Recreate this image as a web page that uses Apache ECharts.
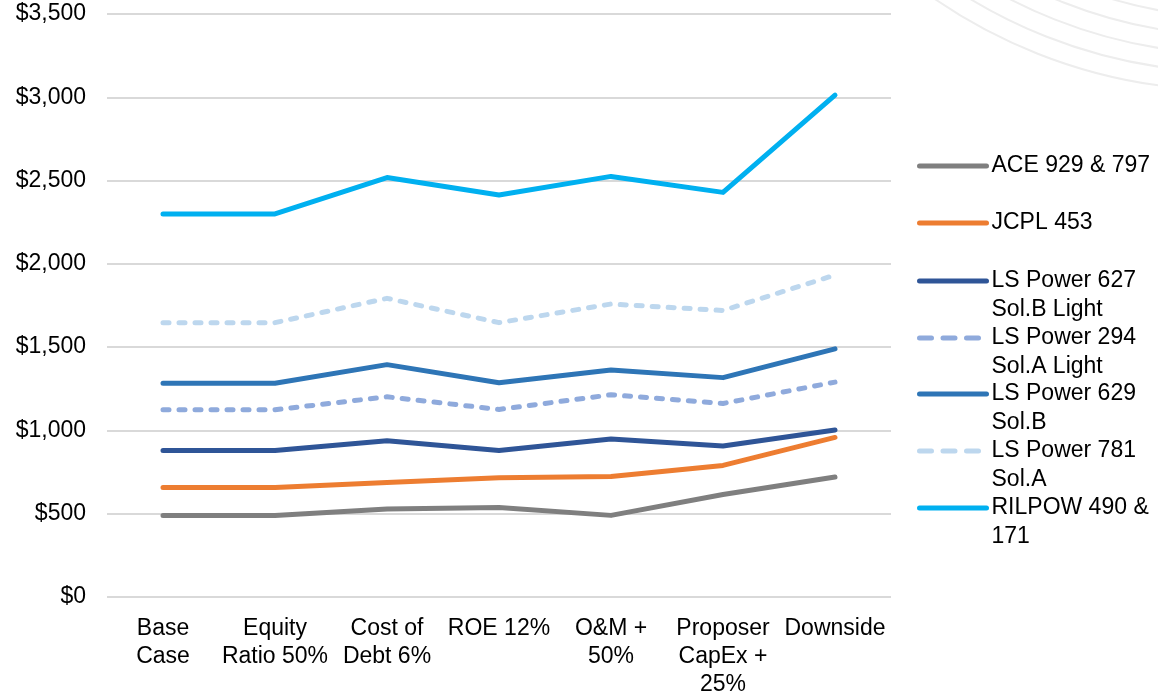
<!DOCTYPE html>
<html>
<head>
<meta charset="utf-8">
<script src="https://cdn.jsdelivr.net/npm/echarts@6/dist/echarts.min.js"></script>
<style>
    html,body{margin:0;padding:0;background:#fff;}
    #chart{width:1158px;height:695px;}
</style>
</head>
<body>
<div id="chart"></div>
<script>
    // categories (x axis tick labels)
    const categories = ['Base\nCase', 'Equity\nRatio 50%', 'Cost of\nDebt 6%', 'ROE 12%', 'O&M +\n50%', 'Proposer\nCapEx +\n25%', 'Downside'];

    // series values
    const ace = [490, 490, 528, 538, 490, 615, 720];
    const jcpl = [658, 658, 688, 716, 724, 790, 958];
    const ls627 = [880, 880, 938, 880, 948, 906, 1003];
    const ls294 = [1124, 1124, 1202, 1126, 1214, 1162, 1290];
    const ls629 = [1283, 1283, 1395, 1286, 1363, 1317, 1490];
    const ls781 = [1647, 1647, 1793, 1647, 1759, 1720, 1933];
    const rilpow = [2300, 2300, 2518, 2413, 2525, 2429, 3013];

    const names = ['ACE 929 & 797', 'JCPL 453', 'LS Power 627 Sol.B Light', 'LS Power 294 Sol.A Light', 'LS Power 629 Sol.B', 'LS Power 781 Sol.A', 'RILPOW 490 & 171'];
    const legendLabels = ['ACE 929 & 797', 'JCPL 453', 'LS Power 627\nSol.B Light', 'LS Power 294\nSol.A Light', 'LS Power 629\nSol.B', 'LS Power 781\nSol.A', 'RILPOW 490 &\n171'];
    const values = [ace, jcpl, ls627, ls294, ls629, ls781, rilpow];
    const colors = ['#7f7f7f', '#ed7d31', '#2f5597', '#8faadc', '#2e75b6', '#bdd7ee', '#00b0f0'];
    const dashed = [false, false, false, true, false, true, false];

    const font = "'Liberation Sans', Arial, sans-serif";

    let myChart = echarts.init(document.getElementById('chart'));

    // legend icon centre (first text line) per item
    const legendCentres = [166, 223, 281, 338, 394, 451, 508];

    let legends = names.map((n, i) => {
        let twoLine = legendLabels[i].indexOf('\n') > -1;
        return {
            orient: 'vertical',
            left: 917,
            // two line labels get a blank line on top so the icon sits on the first line
            top: legendCentres[i] - (twoLine ? 43.5 : 14.5),
            padding: 0,
            itemWidth: 67,
            itemHeight: 10,
            selectedMode: false,
            data: [n],
            formatter: () => twoLine ? ' \n' + legendLabels[i] : legendLabels[i],
            itemStyle: {opacity: 0},
            lineStyle: dashed[i] ? {width: 5, type: [12, 11.5], cap: 'round'} : {width: 5, cap: 'round'},
            textStyle: {
                fontFamily: font,
                fontSize: 23,
                lineHeight: 29,
                color: '#000'
            }
        };
    });

    // faint decorative arcs top right
    let arcs = [];
    for (let k = 0; k < 6; k++) {
        arcs.push({
            type: 'circle',
            silent: true,
            z: -10,
            shape: {cx: 1228 + k * 4, cy: -427 - k * 6, r: 517 - k * 12},
            style: {fill: 'none', stroke: '#ededed', lineWidth: 2}
        });
    }

    myChart.setOption({
        animation: false,
        color: colors,
        textStyle: {fontFamily: font},
        legend: legends,
        graphic: arcs,
        grid: {
            top: 14,
            left: 107,
            right: 267,
            bottom: 98,
            outerBoundsMode: 'none',
        },
        xAxis: {
            type: 'category',
            boundaryGap: true,
            data: categories,
            axisLine: {show: false},
            axisTick: {show: false},
            axisLabel: {
                interval: 0,
                margin: 18,
                fontSize: 23,
                lineHeight: 28,
                color: '#000',
                fontFamily: font,
                align: 'center'
            },
        },
        yAxis: {
            type: 'value',
            min: 0,
            max: 3500,
            interval: 500,
            axisLine: {show: false},
            axisTick: {show: false},
            axisLabel: {
                margin: 21,
                fontSize: 23,
                color: '#000',
                fontFamily: font,
                formatter: v => '$' + v.toLocaleString('en-US')
            },
            splitLine: {
                show: true,
                lineStyle: {color: '#d9d9d9', width: 2}
            },
        },
        series: names.map((n, i) => ({
            name: n,
            type: 'line',
            data: values[i],
            symbol: 'none',
            lineStyle: {
                width: 5,
                color: colors[i],
                type: dashed[i] ? [6, 10] : 'solid',
                cap: 'round',
                join: 'round'
            },
        })),
    });
</script>
</body>
</html>
